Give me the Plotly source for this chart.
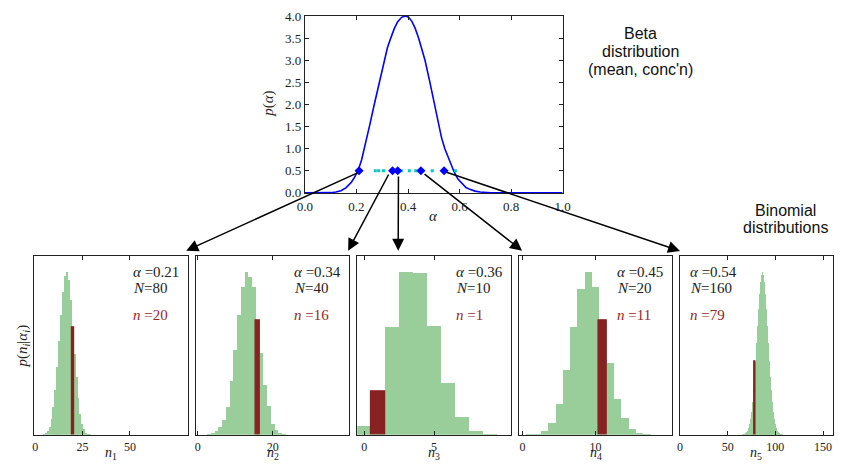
import plotly.graph_objects as go

W, H = 844, 472

# ---- Beta prior over alpha (curve read at selected points) ----
beta_alpha = [0.0, 0.08, 0.10, 0.12, 0.14, 0.16, 0.18, 0.19, 0.206, 0.22, 0.231, 0.25,
              0.269, 0.288, 0.307, 0.32, 0.333, 0.347, 0.36, 0.375, 0.39, 0.403, 0.415,
              0.428, 0.441, 0.453, 0.466, 0.485, 0.502, 0.517, 0.53, 0.543, 0.56, 0.577,
              0.593, 0.61, 0.625, 0.64, 0.66, 0.68, 0.72, 0.8, 1.0]
beta_density = [0.0, 0.0, 0.005, 0.02, 0.05, 0.12, 0.24, 0.33, 0.5, 0.75, 1.0, 1.5,
                2.0, 2.5, 3.0, 3.28, 3.5, 3.72, 3.87, 3.97, 4.0, 3.97, 3.88,
                3.72, 3.5, 3.26, 3.0, 2.5, 2.0, 1.55, 1.25, 1.0, 0.74, 0.5,
                0.32, 0.2, 0.12, 0.08, 0.04, 0.02, 0.003, 0.0, 0.0]

# alphas picked for the five binomials, plus other draws
picked_alpha = [0.21, 0.34, 0.36, 0.45, 0.54]
other_alpha = [0.273, 0.286, 0.305, 0.374, 0.405, 0.43, 0.494, 0.584]
marker_level = 0.5

# ---- Binomial panels ----
trials = [80, 40, 10, 20, 160]
observed = [20, 16, 1, 11, 79]
xticks = [[0, 25, 50], [0, 20], [0, 5], [0, 10], [0, 50, 100, 150]]

hist_start = [5, 3, 0, 1, 66]
hist_heights = [
    [0.005, 0.01, 0.025, 0.05, 0.1, 0.17, 0.28, 0.42, 0.58, 0.74, 0.88, 0.98, 1.0,
     0.95, 0.83, 0.66, 0.5, 0.36, 0.23, 0.13, 0.07, 0.035, 0.015, 0.007, 0.003],
    [0.005, 0.012, 0.025, 0.05, 0.09, 0.17, 0.33, 0.52, 0.74, 0.91, 1.0, 0.97, 0.91,
     0.70, 0.505, 0.31, 0.18, 0.07, 0.03, 0.01, 0.004],
    [0.053, 0.263, 0.663, 1.0, 0.994, 0.673, 0.323, 0.109, 0.026, 0.006],
    [0.002, 0.004, 0.024, 0.075, 0.194, 0.402, 0.663, 0.90, 1.0, 0.91, 0.70, 0.442,
     0.224, 0.105, 0.04, 0.014, 0.004],
    [0.002, 0.003, 0.006, 0.01, 0.017, 0.028, 0.044, 0.067, 0.10, 0.145, 0.203, 0.275,
     0.36, 0.45, 0.563, 0.671, 0.775, 0.866, 0.938, 0.984, 1.0, 0.984, 0.938, 0.866,
     0.775, 0.671, 0.563, 0.458, 0.36, 0.275, 0.203, 0.145, 0.10, 0.067, 0.044, 0.028,
     0.017, 0.01, 0.006, 0.003, 0.002],
]

GREEN = "rgb(153,205,153)"
DARKRED = "rgb(136,34,34)"
TEXTRED = "rgb(150,40,40)"
SERIF = "Liberation Serif"
SANS = "Liberation Sans"
AXCOL = "#222222"


def px(x):
    return x / W


def py(y):
    return 1 - y / H


fig = go.Figure()

# top Beta plot
fig.add_trace(go.Scatter(x=beta_alpha, y=beta_density, mode="lines",
                         line=dict(color="#0000ff", width=1.6),
                         xaxis="x", yaxis="y", showlegend=False))
fig.add_trace(go.Scatter(x=other_alpha, y=[marker_level] * len(other_alpha), mode="markers",
                         marker=dict(color="rgb(0,200,200)", size=3, symbol="square"),
                         xaxis="x", yaxis="y", showlegend=False))
fig.add_trace(go.Scatter(x=picked_alpha, y=[marker_level] * len(picked_alpha), mode="markers",
                         marker=dict(color="#0000ff", size=7, symbol="diamond"),
                         xaxis="x", yaxis="y", showlegend=False))

layout = dict(
    width=W, height=H, margin=dict(l=0, r=0, t=0, b=0),
    paper_bgcolor="white", plot_bgcolor="white",
    barmode="overlay", bargap=0, showlegend=False,
    font=dict(family=SERIF, size=13, color="#222"),
)

layout["xaxis"] = dict(domain=[px(302.7), px(565.3)], range=[0, 1], anchor="y",
                       tickvals=[0, 0.2, 0.4, 0.6, 0.8, 1.0], tickformat=".1f",
                       ticks="inside", ticklen=4, tickcolor=AXCOL, mirror="ticks",
                       showline=True, linecolor=AXCOL, linewidth=1, showgrid=False,
                       zeroline=False, tickfont=dict(family=SERIF, size=13),
                       ticklabelstandoff=2)
layout["yaxis"] = dict(domain=[py(192), py(9.3)], range=[0, 4], anchor="x",
                       tickvals=[0, 0.5, 1, 1.5, 2, 2.5, 3, 3.5, 4], tickformat=".1f",
                       ticks="inside", ticklen=4, tickcolor=AXCOL, mirror="ticks",
                       showline=True, linecolor=AXCOL, linewidth=1, showgrid=False,
                       zeroline=False, tickfont=dict(family=SERIF, size=13))

panel_left = [26.7, 191.5, 356.0, 520.7, 684.5]
panel_w = 156.5
panel_top, panel_bot = 256.7, 441.7
text_offset = [98.3, 98.3, 98.3, 97.6, 8.7]

annotations = []

for i in range(5):
    k = i + 2
    xa, ya = f"x{k}", f"y{k}"
    ks = list(range(hist_start[i], hist_start[i] + len(hist_heights[i])))
    fig.add_trace(go.Bar(x=ks, y=hist_heights[i], width=1,
                         marker=dict(color=GREEN, line=dict(width=0)),
                         xaxis=xa, yaxis=ya, showlegend=False))
    obs_h = hist_heights[i][observed[i] - hist_start[i]]
    fig.add_trace(go.Bar(x=[observed[i]], y=[obs_h], width=1,
                         marker=dict(color=DARKRED, line=dict(width=1.4, color=DARKRED)),
                         xaxis=xa, yaxis=ya, showlegend=False))
    left = panel_left[i]
    layout[f"xaxis{k}"] = dict(domain=[px(left), px(left + panel_w)],
                               range=[-0.5, trials[i] + 0.5], anchor=ya,
                               tickvals=xticks[i], ticks="inside", ticklen=4,
                               tickcolor=AXCOL, mirror="ticks", showline=True,
                               linecolor=AXCOL, linewidth=1, showgrid=False,
                               zeroline=False, tickfont=dict(family=SERIF, size=12),
                               ticklabelstandoff=1)
    layout[f"yaxis{k}"] = dict(domain=[py(panel_bot), py(panel_top)], range=[0, 1.1],
                               anchor=xa, showticklabels=False, ticks="",
                               mirror=True, showline=True, linecolor=AXCOL, linewidth=1,
                               showgrid=False, zeroline=False)
    tx = px(left + text_offset[i])
    annotations.append(dict(x=tx, y=py(273.3), xref="paper", yref="paper",
                            text=f"<i>α</i> =%.2f" % picked_alpha[i], showarrow=False,
                            xanchor="left", yanchor="middle",
                            font=dict(family=SERIF, size=15, color="#222")))
    annotations.append(dict(x=tx, y=py(290.7), xref="paper", yref="paper",
                            text=f"<i>N</i>={trials[i]}", showarrow=False,
                            xanchor="left", yanchor="middle",
                            font=dict(family=SERIF, size=15, color="#222")))
    annotations.append(dict(x=tx, y=py(318.3), xref="paper", yref="paper",
                            text=f"<i>n</i> ={observed[i]}", showarrow=False,
                            xanchor="left", yanchor="middle",
                            font=dict(family=SERIF, size=15, color=TEXTRED)))
    annotations.append(dict(x=px(left + panel_w / 2), y=py(472), xref="paper", yref="paper",
                            text=f"<i>n</i><sub>{i + 1}</sub>", showarrow=False,
                            xanchor="center", yanchor="bottom",
                            font=dict(family=SERIF, size=14, color="#222")))

# axis titles
annotations.append(dict(x=px(266), y=py(100), xref="paper", yref="paper",
                        text="<i>p</i>(<i>α</i>)", textangle=-90, showarrow=False,
                        xanchor="center", yanchor="middle",
                        font=dict(family=SERIF, size=15, color="#222")))
annotations.append(dict(x=px(433.5), y=py(216), xref="paper", yref="paper",
                        text="<i>α</i>", showarrow=False, xanchor="center", yanchor="middle",
                        font=dict(family=SERIF, size=15, color="#222")))
annotations.append(dict(x=px(15), y=py(350), xref="paper", yref="paper",
                        text="<i>p</i>(<i>n<sub>i</sub></i>|<i>α<sub>i</sub></i>)",
                        textangle=-90, showarrow=False, xanchor="center", yanchor="middle",
                        font=dict(family=SERIF, size=15, color="#222")))

# side captions
for txt, yy in [("Beta", 27), ("distribution", 46), ("(mean, conc'n)", 65)]:
    annotations.append(dict(x=px(645), y=py(yy), xref="paper", yref="paper", text=txt,
                            showarrow=False, xanchor="center", yanchor="middle",
                            font=dict(family=SANS, size=16, color="#111")))
for txt, yy in [("Binomial", 210), ("distributions", 228)]:
    annotations.append(dict(x=px(793), y=py(yy), xref="paper", yref="paper", text=txt,
                            showarrow=False, xanchor="center", yanchor="middle",
                            font=dict(family=SANS, size=16, color="#111")))

# arrows from each picked alpha to its binomial panel
arrow_tail = [(355, 173), (388, 174), (398, 176), (425, 174), (450, 172.7)]
arrow_head = [(181.7, 251.7), (346.7, 251.7), (397.7, 251.7), (524, 251.7), (685, 252)]
for (tx_, ty_), (hx, hy) in zip(arrow_tail, arrow_head):
    annotations.append(dict(x=px(hx), y=py(hy), xref="paper", yref="paper", text="",
                            showarrow=True, axref="pixel", ayref="pixel",
                            ax=tx_ - hx, ay=ty_ - hy, arrowhead=2, arrowsize=1.6,
                            arrowwidth=1.5, arrowcolor="#000"))

layout["annotations"] = annotations
fig.update_layout(**layout)
fig.write_html("out.html")
